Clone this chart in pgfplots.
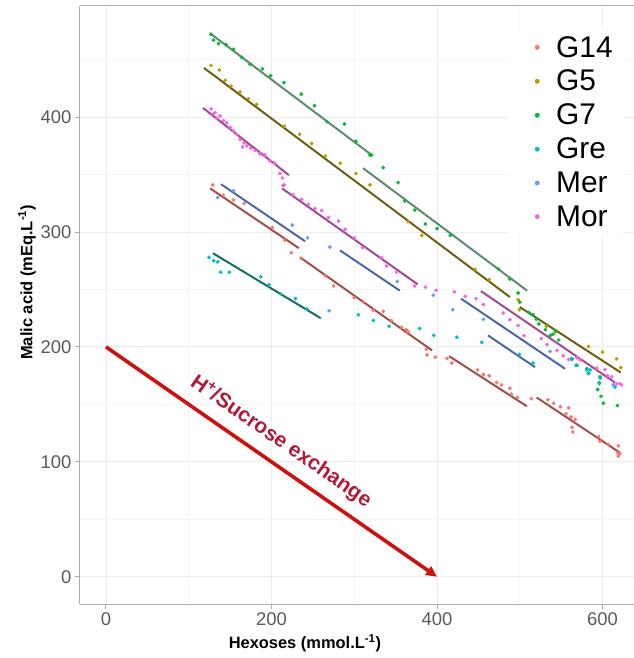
\documentclass[border=0pt]{standalone}
\usepackage{pgfplots}
\pgfplotsset{compat=1.18}
\usepackage{fontspec}
\setmainfont{Liberation Sans}
\usetikzlibrary{arrows.meta}
\definecolor{cG14}{HTML}{F8766D}
\definecolor{cG5}{HTML}{B79F00}
\definecolor{cG7}{HTML}{00BA38}
\definecolor{cGre}{HTML}{00BFC4}
\definecolor{cMer}{HTML}{619CFF}
\definecolor{cMor}{HTML}{F564E3}
\definecolor{lG14}{HTML}{A0504A}
\definecolor{lG5}{HTML}{6E5F14}
\definecolor{lG7}{HTML}{5F8C6E}
\definecolor{lGre}{HTML}{196E64}
\definecolor{lMer}{HTML}{4B69A0}
\definecolor{lMor}{HTML}{A04B96}
\definecolor{arrowred}{HTML}{CC1111}
\definecolor{textred}{HTML}{B01C38}
\begin{document}
\begin{tikzpicture}
\useasboundingbox (-80bp,-54bp) rectangle (554bp,604bp);
\begin{axis}[
  scale only axis, width=554bp, height=598bp,
  at={(0,0)}, anchor=south west,
  xmin=-31.4, xmax=638, ymin=-23.7, ymax=496.7,
  clip=false,
  axis x line*=bottom, axis y line*=left,
  axis line style={draw=gray!65, line width=1bp},
  xtick={0,200,400,600}, minor xtick={100,300,500},
  ytick={0,100,200,300,400}, minor ytick={50,150,250,350,450},
  grid=both,
  major grid style={draw=gray!14, line width=0.9bp},
  minor grid style={draw=gray!8, line width=0.6bp},
  tick align=outside, major tick length=5bp, minor tick length=0bp,
  tick style={draw=gray!65, line width=1bp},
  /pgf/number format/assume math mode=true,
  ticklabel style={font=\fontsize{18.5}{20}\selectfont, text=black!65},
  xlabel={Hexoses (mmol.L\textsuperscript{-1})},
  ylabel={Malic acid (mEq.L\textsuperscript{-1})},
  label style={font=\bfseries\fontsize{16.5}{18}\selectfont},
  xlabel style={at={(axis description cs:0.406,-0.065)}, anchor=center},
  ylabel style={at={(axis description cs:-0.0957,0.538)}, anchor=center},
  legend style={at={(rel axis cs:0.7726,0.9616)}, anchor=north west, draw=none, fill=white,
    font=\fontsize{30}{32}\selectfont, row sep=7.6bp, inner xsep=8bp, inner ysep=5bp},
  legend cell align=left,
  legend image code/.code={\path[draw=none,fill=none] (0bp,-1bp) rectangle (38bp,1bp); \fill[#1] (21bp,0bp) circle (2.2bp);},
]
% ---------- points ----------
\addplot[only marks, mark=*, mark size=1.7bp, color=cG14] coordinates {
(129,341)(142,332)(154,328)(167,325)(201,304)(216,293)(224,282)(236,277)(265,262)(275,253)
(300,243)(311,239)(323,232)(335,231)(345,223)(357,217)(363,215)(365,213)(387,198)(388,193)
(398,191)(412,190)(418,186)(449,180)(456,176)(463,175)(472,169)(478,167)(488,164)(490,159)
(497,156)(514,155)(534,154)(541,151)(549,148)(556,142)(559,147)(562,139)(567,137)(563,130)
(564,126)(595,122)(597,118)(607,115)(619,114)(618,108)(619,105)(621,107)};
\addlegendentry{G14}
\addplot[only marks, mark=*, mark size=1.7bp, color=cG5] coordinates {
(127,445)(137,441)(144,432)(151,427)(162,422)(172,416)(182,411)(215.5,392)(234,385)(248.5,377)
(265,366)(283,360)(302,351)(319,341)(365,309)(381.5,297)(446,267.5)(463,258.6)(498,241)(499.5,232.4)
(532,218)(543,213)(583,200.4)(600,195.5)(617,189.7)(622,182)};
\addlegendentry{G5}
\addplot[only marks, mark=*, mark size=1.7bp, color=cG7] coordinates {
(127,472)(130,467)(136,464)(145,463)(154,459)(164,452)(174,446)(189,442)(199,436)(215,430)
(236,420)(252,410)(267,396)(288,394)(302,379)(319,367)(321,367)(335,356)(353,343)(361,327)
(373,319)(386,307)(400,303)(416,297)(474,268)(488,259)(498,247)(500,239)(511,230)(516,228)
(520,224)(523,220)(531,215)(537,210)(540,211)(543,214)(547,206)(563,190)(569,184)(581,181)
(583,177)(597,174)(596,169)(594,163)(598,157)(601,151)(618,149)};
\addlegendentry{G7}
\addplot[only marks, mark=*, mark size=1.7bp, color=cGre] coordinates {
(124.5,278)(130,275)(135,274)(138.5,265)(149,265)(187,261)(197,254)(211.5,246)(229,242)(243,233)
(305,228)(323,223)(342,218)(379,216)(396,210)(424,208.5)(454,204)(499.5,193.5)(516,186)(563,189)
(568,184)(581,180)(583,177)(585,180)(597,173)(596,168)(615,165)};
\addlegendentry{Gre}
\addplot[only marks, mark=*, mark size=1.7bp, color=cMer] coordinates {
(135,330)(154,336)(225,306)(243.5,295)(270.5,287)(269.5,231.5)(352,257)(395.5,245)(419,232.5)(456,224)
(536.6,196)(613,167)};
\addlegendentry{Mer}
\addplot[only marks, mark=*, mark size=1.7bp, color=cMor] coordinates {
(127,407)(130,403)(132,404)(138,401)(134,399)(142,397)(146,395)(150,391)(154,388)(158,385)
(162,380.5)(167,377.6)(165,374)(170,375)(175,373)(180,371)(186,368)(192,367)(198,362)(204,360)
(210,351)(213,347)(215.5,341)(214,340.7)(226,332.6)(236.5,328.5)(244.5,324)(252.6,320.4)(260.6,318.7)(268.7,312.6)
(281,309.5)(289,302.4)(300,295)(310,286.5)(333,277.7)(339,270.4)(351,265.2)(373,253)(386,252)(399,249.2)
(421,248)(434,244)(447,242)(456,237)(480,229.5)(488,223.7)(498,218.7)(505,209.8)(526,207.3)(533,202.2)
(545,197)(552.5,192.3)(559,189)(569,190.6)(573,188.8)(593,181.5)(603,180.3)(606,175)(611,174)(617,168)
(621,168)(623,167)};
\addlegendentry{Mor}
% ---------- fitted segments ----------
\addplot[forget plot, no marks, color=lG14, line width=2bp] coordinates {(125.7,338)(233,286)};
\addplot[forget plot, no marks, color=lG14, line width=2bp] coordinates {(234.4,278)(394,197)};
\addplot[forget plot, no marks, color=lG14, line width=2bp] coordinates {(414.5,192)(508.5,148.4)};
\addplot[forget plot, no marks, color=lG14, line width=2bp] coordinates {(520.4,156)(621,108)};
\addplot[forget plot, no marks, color=lG5, line width=2bp] coordinates {(118.4,442.8)(488,243.4)};
\addplot[forget plot, no marks, color=lG5, line width=2bp] coordinates {(500,234.7)(621.9,177.8)};
\addplot[forget plot, no marks, color=lG7, line width=2bp] coordinates {(125.7,473)(321,367)};
\addplot[forget plot, no marks, color=lG7, line width=2bp] coordinates {(310.6,355.6)(508.8,249)};
\addplot[forget plot, no marks, color=lGre, line width=2bp] coordinates {(129.3,281.5)(259.5,225)};
\addplot[forget plot, no marks, color=lMer, line width=2bp] coordinates {(139,341.6)(240.5,292)};
\addplot[forget plot, no marks, color=lMer, line width=2bp] coordinates {(282.8,284)(355,249)};
\addplot[forget plot, no marks, color=lMer, line width=2bp] coordinates {(429,242)(554.7,181)};
\addplot[forget plot, no marks, color=lMer, line width=2bp] coordinates {(461.6,210)(518.4,182.4)};
\addplot[forget plot, no marks, color=lMor, line width=2bp] coordinates {(117.2,408)(221,349.5)};
\addplot[forget plot, no marks, color=lMor, line width=2bp] coordinates {(212.7,338)(376.6,254.5)};
\addplot[forget plot, no marks, color=lMor, line width=2bp] coordinates {(453,248.6)(615,169)};
% ---------- arrow ----------
\addplot[forget plot, no marks, color=arrowred, line width=3.6bp, -{Triangle[length=11bp,width=10bp]}] coordinates {(0,200)(400,0)};
\node[rotate=-34.8, text=textred, font=\bfseries\fontsize{21}{24}\selectfont] at (axis cs:211.5,117.6) {H\textsuperscript{+}/Sucrose exchange};
\draw[gray!65, line width=1bp] (rel axis cs:0,1) -- (rel axis cs:1,1);
\end{axis}
\end{tikzpicture}
\end{document}
